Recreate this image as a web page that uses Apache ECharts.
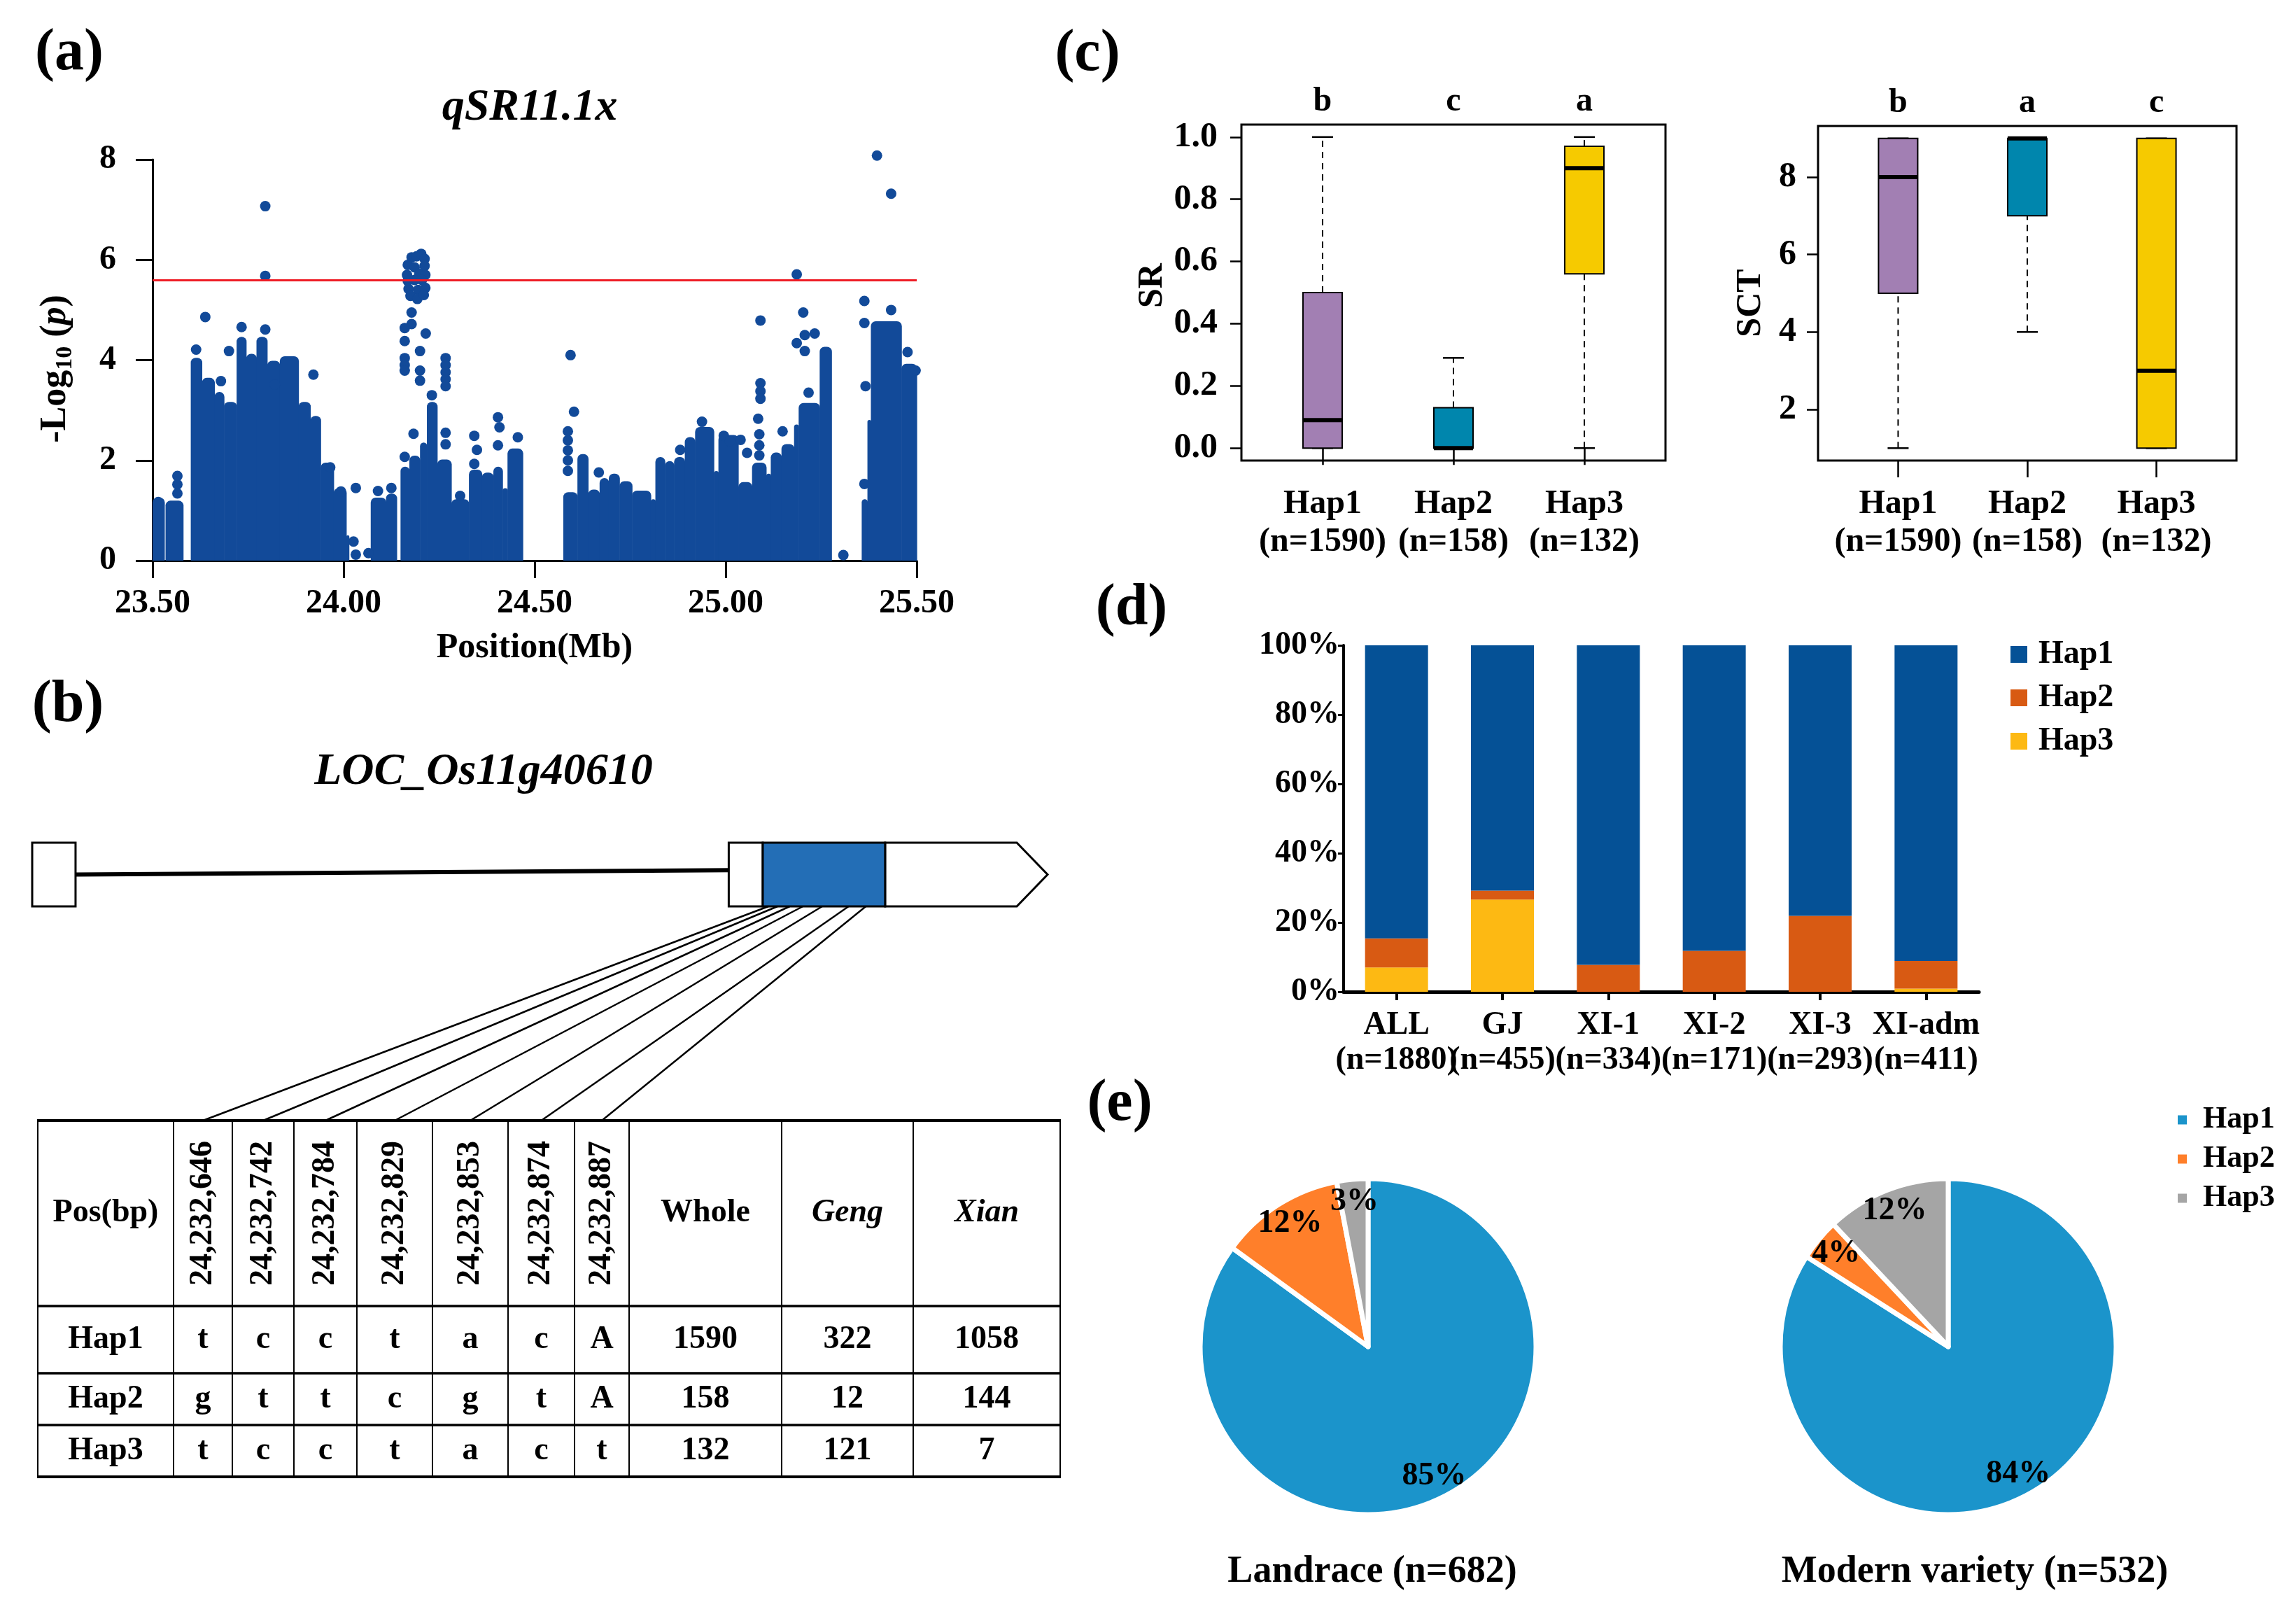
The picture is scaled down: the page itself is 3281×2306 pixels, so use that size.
<!DOCTYPE html>
<html><head><meta charset="utf-8">
<script src="https://cdn.jsdelivr.net/npm/echarts@6/dist/echarts.min.js"></script>
<style>html,body{margin:0;padding:0;background:#fff}#c{width:3281px;height:2306px}</style>
</head><body><div id="c"></div>
<script>
// ================= DATA =================
// (a) Manhattan plot: dense SNP mass read as envelope blocks [startMb, endMb, top -log10p]
const snpBlocks = [
  [23.500, 23.531, 1.20], [23.534, 23.580, 1.14],
  [23.600, 23.629, 3.99], [23.629, 23.662, 3.59], [23.662, 23.687, 3.31],
  [23.687, 23.720, 3.11], [23.720, 23.745, 4.41], [23.745, 23.772, 4.07],
  [23.772, 23.800, 4.41], [23.800, 23.833, 3.93], [23.833, 23.882, 4.02],
  [23.882, 23.913, 3.11], [23.913, 23.940, 2.83], [23.940, 23.974, 1.90],
  [23.974, 24.007, 1.39], [24.007, 24.014, 0.45],
  [24.071, 24.111, 1.20], [24.111, 24.139, 1.28],
  [24.149, 24.172, 1.82], [24.172, 24.200, 2.04], [24.200, 24.218, 2.30],
  [24.218, 24.245, 3.11], [24.245, 24.282, 1.96], [24.282, 24.328, 1.17],
  [24.328, 24.362, 1.76], [24.362, 24.392, 1.70], [24.392, 24.416, 1.82],
  [24.416, 24.429, 1.39], [24.429, 24.469, 2.18],
  [24.575, 24.612, 1.31], [24.612, 24.640, 2.07], [24.640, 24.670, 1.36],
  [24.670, 24.694, 1.59], [24.694, 24.722, 1.68], [24.722, 24.755, 1.53],
  [24.755, 24.804, 1.34], [24.804, 24.816, 1.17], [24.816, 24.841, 2.01],
  [24.841, 24.865, 1.93], [24.865, 24.893, 2.01], [24.893, 24.920, 2.41],
  [24.920, 24.969, 2.61], [24.969, 24.981, 1.73], [24.981, 25.033, 2.45],
  [25.033, 25.069, 1.51], [25.069, 25.106, 1.90], [25.106, 25.118, 1.68],
  [25.118, 25.146, 2.10], [25.146, 25.179, 2.27], [25.179, 25.191, 2.66],
  [25.191, 25.246, 3.09], [25.246, 25.277, 4.21],
  [25.356, 25.371, 1.17], [25.371, 25.380, 2.75], [25.380, 25.460, 4.72],
  [25.460, 25.500, 3.87]
];
// (a) individual SNP points standing out of the mass [Mb, -log10p]
const snpPoints = [
  [23.515, 1.17], [23.565, 1.69], [23.565, 1.52], [23.565, 1.34],
  [23.614, 4.21], [23.638, 4.86], [23.679, 3.58], [23.700, 4.18], [23.733, 4.66],
  [23.795, 7.07], [23.795, 5.68], [23.795, 4.61], [23.820, 3.51], [23.921, 3.71],
  [23.965, 1.86], [23.993, 1.38],
  [24.026, 0.38], [24.032, 0.12], [24.032, 1.45], [24.065, 0.15], [24.090, 1.39], [24.125, 1.45],
  [24.160, 2.07], [24.183, 2.53],
  [24.178, 6.05], [24.191, 6.07], [24.203, 6.12], [24.212, 6.02],
  [24.168, 5.90], [24.212, 5.88], [24.186, 5.85],
  [24.166, 5.70], [24.198, 5.72], [24.214, 5.70],
  [24.168, 5.58], [24.186, 5.60], [24.205, 5.60],
  [24.170, 5.42], [24.195, 5.40], [24.214, 5.44],
  [24.175, 5.28], [24.193, 5.22], [24.210, 5.30],
  [24.178, 4.95], [24.178, 4.72], [24.160, 4.64], [24.160, 4.38], [24.215, 4.53], [24.200, 4.18],
  [24.160, 4.04], [24.160, 3.90], [24.160, 3.79], [24.200, 3.79], [24.200, 3.59],
  [24.267, 4.04], [24.267, 3.90], [24.267, 3.76], [24.267, 3.62], [24.267, 3.48],
  [24.231, 3.30], [24.267, 2.55], [24.267, 2.32], [24.305, 1.29],
  [24.342, 2.49], [24.349, 2.21], [24.342, 1.93], [24.404, 2.30], [24.404, 2.86], [24.408, 2.66], [24.456, 2.46],
  [24.587, 2.58], [24.587, 2.40], [24.587, 2.20], [24.587, 2.00], [24.587, 1.79], [24.603, 2.97], [24.594, 4.10],
  [24.668, 1.76], [24.881, 2.21], [24.938, 2.77], [24.995, 2.49], [25.011, 2.38],
  [25.039, 2.41], [25.056, 2.15], [25.088, 2.52], [25.088, 2.30], [25.088, 2.10], [25.085, 2.83],
  [25.091, 3.54], [25.091, 3.38], [25.091, 3.23], [25.091, 4.79], [25.149, 2.58], [25.217, 3.35],
  [25.186, 5.71], [25.203, 4.95], [25.207, 4.50], [25.233, 4.53], [25.186, 4.34], [25.207, 4.18],
  [25.308, 0.11], [25.363, 1.53], [25.363, 5.18], [25.363, 4.74], [25.366, 3.48], [25.433, 5.00],
  [25.396, 8.08], [25.433, 7.32], [25.476, 4.16], [25.497, 3.79]
];
const threshold = 5.59;

// (b) gene model (schematic units 0-100 along the gene)
const geneExon1 = [0, 4.27];
const geneUtr5 = [68.6, 71.95];
const geneCds = [71.95, 84.0];
const geneUtr3 = [84.0, 100];
const geneIntron = [4.27, 68.6];
const snpAnchors = [72.5, 73.4, 74.6, 75.9, 77.8, 80.4, 82.1];
const snpIds = ['24,232,646', '24,232,742', '24,232,784', '24,232,829', '24,232,853', '24,232,874', '24,232,887'];
const hapNames = ['Hap1', 'Hap2', 'Hap3'];
const hapAlleles = [
  ['t', 'c', 'c', 't', 'a', 'c', 'A'],
  ['g', 't', 't', 'c', 'g', 't', 'A'],
  ['t', 'c', 'c', 't', 'a', 'c', 't']
];
const countHeads = ['Whole', 'Geng', 'Xian'];
const hapCounts = [[1590, 322, 1058], [158, 12, 144], [132, 121, 7]];

// (c) box plots [min, Q1, median, Q3, max]
const hapN = [1590, 158, 132];
const srBox = [[0, 0, 0.09, 0.50, 1.00], [0, 0, 0.00, 0.13, 0.29], [0, 0.56, 0.90, 0.97, 1.00]];
const srLetters = ['b', 'c', 'a'];
const sctBox = [[1, 5, 8, 9, 9], [4, 7, 9, 9, 9], [1, 1, 3, 9, 9]];
const sctLetters = ['b', 'a', 'c'];
const srTicks = [0, 0.2, 0.4, 0.6, 0.8, 1.0];
const sctTicks = [2, 4, 6, 8];

// (d) haplotype frequencies (%) per subpopulation
const dGroups = ['ALL', 'GJ', 'XI-1', 'XI-2', 'XI-3', 'XI-adm'];
const dN = [1880, 455, 334, 171, 293, 411];
const dHap1 = [84.6, 70.8, 92.2, 88.2, 78.1, 91.1];
const dHap2 = [8.4, 2.6, 7.8, 11.8, 21.9, 8.0];
const dHap3 = [7.0, 26.6, 0, 0, 0, 0.9];

// (e) pies (%)
const landrace = [85, 12, 3];
const modern = [84, 4, 12];
const pieTitles = ['Landrace (n=682)', 'Modern variety (n=532)'];

// ================= STYLE / LAYOUT =================
const FONT = '"Liberation Serif", "Times New Roman", Times, serif';
const MCOL = '#124A99';
const BOX_COL = ['#A27FB3', '#0086AD', '#F6CA00'];
const D_COL = ['#055196', '#D85A13', '#FDB913'];
const PIE_COL = ['#1B94CB', '#FF7F2A', '#A5A5A5'];
const BOLD = { fontFamily: FONT, fontWeight: 'bold', color: '#000' };

const colX = [54, 248, 332, 420, 510, 618, 726, 821, 899, 1117, 1305, 1515];
const rowY = [1601, 1866, 1962, 2036, 2110];
const colC = i => (colX[i] + colX[i + 1]) / 2;
const rowC = r => (rowY[r] + rowY[r + 1]) / 2;

function txt(x, y, text, size, opts) {
  opts = opts || {};
  return {
    type: 'text', x: x, y: y, rotation: opts.rotation || 0, silent: true, z: 50,
    style: Object.assign({
      text: text, fontSize: size, fontFamily: FONT, fontWeight: 'bold',
      fontStyle: opts.italic ? 'italic' : 'normal', fill: '#000',
      align: 'center', verticalAlign: 'middle'
    }, opts.style || {})
  };
}
function hline(x1, x2, y, w) {
  return { type: 'line', silent: true, z: 40, shape: { x1: x1, y1: y, x2: x2, y2: y }, style: { stroke: '#000', lineWidth: w } };
}
function vline(x, y1, y2, w) {
  return { type: 'line', silent: true, z: 40, shape: { x1: x, y1: y1, x2: x, y2: y2 }, style: { stroke: '#000', lineWidth: w } };
}

const gfx = [];
gfx.push(txt(99, 77, '(a)', 84), txt(97, 1008, '(b)', 84), txt(1554, 78, '(c)', 84),
         txt(1617, 870, '(d)', 84), txt(1600, 1578, '(e)', 84));
gfx.push(txt(757, 154, 'qSR11.1x', 64, { italic: true }));
gfx.push(txt(691, 1103, 'LOC_Os11g40610', 64, { italic: true }));
gfx.push(txt(80, 527, '-Log{s|10} ({i|p})', 52, {
  rotation: Math.PI / 2,
  style: { rich: {
    s: { fontSize: 34, fontFamily: FONT, fontWeight: 'bold', verticalAlign: 'bottom', lineHeight: 60 },
    i: { fontSize: 52, fontFamily: FONT, fontWeight: 'bold', fontStyle: 'italic' }
  } }
}));
gfx.push(txt(764, 926, 'Position(Mb)', 50));
gfx.push(txt(1647, 408, 'SR', 50, { rotation: Math.PI / 2 }));
gfx.push(txt(2502, 433, 'SCT', 50, { rotation: Math.PI / 2 }));
gfx.push(txt(1961, 2246, pieTitles[0], 54), txt(2822, 2246, pieTitles[1], 54));

// table
for (let r = 0; r < rowY.length; r++) {
  const w = (r === 0 || r === rowY.length - 1) ? 4 : 3.5;
  gfx.push(hline(colX[0] - 1, colX[colX.length - 1] + 1, rowY[r], w));
}
for (let c = 0; c < colX.length; c++) {
  gfx.push(vline(colX[c], rowY[0], rowY[rowY.length - 1], 2));
}
const hy = rowC(0);
gfx.push(txt(colC(0), hy, 'Pos(bp)', 46));
snpIds.forEach((s, i) => gfx.push(txt(colC(i + 1), hy, s, 46, { rotation: Math.PI / 2 })));
countHeads.forEach((s, i) => gfx.push(txt(colC(8 + i), hy, s, 46, { italic: i > 0 })));
hapNames.forEach((h, r) => {
  const y = rowC(r + 1);
  gfx.push(txt(colC(0), y, h, 46));
  hapAlleles[r].forEach((a, i) => gfx.push(txt(colC(i + 1), y, a, 46)));
  hapCounts[r].forEach((n, i) => gfx.push(txt(colC(8 + i), y, String(n), 46)));
});

// ================= RENDERERS =================
function renderBlock(params, api) {
  const a = api.coord([api.value(0), api.value(2)]);
  const b = api.coord([api.value(1), 0]);
  return { type: 'rect', shape: { x: a[0], y: a[1] - 4, width: b[0] - a[0] + 0.6, height: b[1] - a[1] + 4, r: [7, 7, 0, 0] },
           style: { fill: MCOL } };
}
const GENE_KIND = ['box', 'box', 'cds', 'arrow'];
function renderGene(params, api) {
  const p0 = api.coord([api.value(0), 1]);
  const p1 = api.coord([api.value(1), 0]);
  const kind = GENE_KIND[params.dataIndex];
  const st = { fill: kind === 'cds' ? '#236EB6' : '#fff', stroke: '#000', lineWidth: 3 };
  if (kind === 'arrow') {
    const mid = (p0[1] + p1[1]) / 2;
    return { type: 'polygon', shape: { points: [[p0[0], p0[1]], [p1[0] - 44, p0[1]], [p1[0], mid], [p1[0] - 44, p1[1]], [p0[0], p1[1]]] }, style: st, z2: 5 };
  }
  return { type: 'rect', shape: { x: p0[0], y: p0[1], width: p1[0] - p0[0], height: p1[1] - p0[1] }, style: st, z2: kind === 'cds' ? 6 : 5 };
}
function renderIntron(params, api) {
  const a = api.coord([api.value(0), 0.50]);
  const b = api.coord([api.value(1), 0.57]);
  return { type: 'line', shape: { x1: a[0], y1: a[1], x2: b[0], y2: b[1] }, style: { stroke: '#000', lineWidth: 6 } };
}
function renderSnpLine(params, api) {
  const a = api.coord([api.value(0), 0]);
  const i = params.dataIndex;
  return { type: 'line', shape: { x1: a[0], y1: a[1], x2: colC(i + 1), y2: rowY[0] }, style: { stroke: '#000', lineWidth: 2.5 } };
}
function boxRenderer(letters) {
  return function (params, api) {
    const i = params.dataIndex;
    const x = api.value(0);
    const mn = api.value(1), q1 = api.value(2), md = api.value(3), q3 = api.value(4), mx = api.value(5);
    const px = api.coord([x, md])[0];
    const y = v => api.coord([x, v])[1];
    const bw = 56, cw = 30;
    const ch = [];
    const dash = { stroke: '#000', lineWidth: 2, lineDash: [9, 7] };
    const solid = { stroke: '#000', lineWidth: 2.5 };
    if (mx > q3) ch.push({ type: 'line', shape: { x1: px, y1: y(q3), x2: px, y2: y(mx) }, style: dash });
    if (q1 > mn) ch.push({ type: 'line', shape: { x1: px, y1: y(mn), x2: px, y2: y(q1) }, style: dash });
    ch.push({ type: 'line', shape: { x1: px - cw / 2, y1: y(mx), x2: px + cw / 2, y2: y(mx) }, style: solid });
    ch.push({ type: 'line', shape: { x1: px - cw / 2, y1: y(mn), x2: px + cw / 2, y2: y(mn) }, style: solid });
    ch.push({ type: 'rect', shape: { x: px - bw / 2, y: y(q3), width: bw, height: y(q1) - y(q3) },
              style: { fill: BOX_COL[i], stroke: '#000', lineWidth: 2 } });
    ch.push({ type: 'line', shape: { x1: px - bw / 2, y1: y(md), x2: px + bw / 2, y2: y(md) }, style: { stroke: '#000', lineWidth: 6 } });
    ch.push({ type: 'text', x: px, y: params.coordSys.y - 8,
              style: { text: letters[i], fontSize: 48, fontFamily: FONT, fontWeight: 'bold', fill: '#000', align: 'center', verticalAlign: 'bottom' } });
    return { type: 'group', children: ch };
  };
}

// ================= AXES =================
const tickStyle = w => ({ color: '#000', width: w });
function hapLabel(v) { const i = Math.round(v) - 1; return hapNames[i] + '\n(n=' + hapN[i] + ')'; }
function boxXAxis(g) {
  return { gridIndex: g, type: 'value', min: 0.38, max: 3.62,
    axisLine: { show: false },
    axisTick: { show: true, customValues: [1, 2, 3], length: 24, lineStyle: tickStyle(2.5) },
    axisLabel: Object.assign({}, BOLD, { customValues: [1, 2, 3], fontSize: 48, lineHeight: 54, margin: 36, formatter: hapLabel }),
    splitLine: { show: false } };
}
function boxYAxis(g, mn, mx, ticks, dec, margin) {
  return { gridIndex: g, type: 'value', min: mn, max: mx,
    axisLine: { show: false },
    axisTick: { show: true, customValues: ticks, length: 16, lineStyle: tickStyle(2.5) },
    axisLabel: Object.assign({}, BOLD, { customValues: ticks, fontSize: 50, margin: margin, formatter: v => v.toFixed(dec) }),
    splitLine: { show: false } };
}

const option = {
  animation: false,
  backgroundColor: '#fff',
  graphic: { elements: gfx },
  grid: [
    { left: 218, top: 228, width: 1092, height: 573 },
    { left: 46, top: 1204, width: 1451, height: 91 },
    { left: 1774, top: 178, width: 606, height: 480, show: true, borderColor: '#000', borderWidth: 3 },
    { left: 2598, top: 180, width: 598, height: 478, show: true, borderColor: '#000', borderWidth: 3 },
    { left: 1920, top: 922, width: 908, height: 495 }
  ],
  xAxis: [
    { gridIndex: 0, type: 'value', min: 23.5, max: 25.5, interval: 0.5,
      axisLine: { show: true, lineStyle: tickStyle(3) },
      axisTick: { show: true, length: 25, lineStyle: tickStyle(3) },
      axisLabel: Object.assign({}, BOLD, { fontSize: 48, margin: 38, formatter: v => v.toFixed(2) }),
      splitLine: { show: false } },
    { gridIndex: 1, type: 'value', min: 0, max: 100, show: false },
    boxXAxis(2), boxXAxis(3),
    { gridIndex: 4, type: 'category', data: dGroups,
      axisLine: { show: true, lineStyle: tickStyle(5) },
      axisTick: { show: true, alignWithLabel: true, length: 12, lineStyle: tickStyle(4) },
      axisLabel: Object.assign({}, BOLD, { fontSize: 46, lineHeight: 50, margin: 23, interval: 0,
        formatter: (v, i) => v + '\n(n=' + dN[i] + ')' }) }
  ],
  yAxis: [
    { gridIndex: 0, type: 'value', min: 0, max: 8, interval: 2,
      axisLine: { show: true, lineStyle: tickStyle(3) },
      axisTick: { show: true, length: 24, lineStyle: tickStyle(3) },
      axisLabel: Object.assign({}, BOLD, { fontSize: 48, margin: 52 }),
      splitLine: { show: false } },
    { gridIndex: 1, type: 'value', min: 0, max: 1, show: false },
    boxYAxis(2, -0.04, 1.04, srTicks, 1, 34),
    boxYAxis(3, 0.68, 9.32, sctTicks, 0, 31),
    { gridIndex: 4, type: 'value', min: 0, max: 100, interval: 20,
      axisLine: { show: true, lineStyle: tickStyle(4) },
      axisTick: { show: true, length: 8, lineStyle: tickStyle(3) },
      axisLabel: Object.assign({}, BOLD, { fontSize: 46, margin: 6, formatter: '{value}%' }),
      splitLine: { show: false } }
  ],
  legend: [
    { orient: 'vertical', left: 2873, top: 912, itemWidth: 24, itemHeight: 24, itemGap: 16, icon: 'rect',
      selectedMode: false, padding: 0,
      textStyle: Object.assign({}, BOLD, { fontSize: 46, padding: [0, 0, 0, 11] }),
      data: hapNames.map((n, i) => ({ name: n, itemStyle: { color: D_COL[i] } })) },
    { orient: 'vertical', left: 3112, top: 1578, itemWidth: 13, itemHeight: 13, itemGap: 12, icon: 'rect',
      selectedMode: false, padding: 0,
      textStyle: Object.assign({}, BOLD, { fontSize: 44, padding: [0, 0, 0, 18] }),
      data: hapNames.map((n, i) => ({ name: n, itemStyle: { color: PIE_COL[i] } })) }
  ],
  series: [
    { type: 'custom', name: 'snpMass', xAxisIndex: 0, yAxisIndex: 0, data: snpBlocks,
      encode: { x: [0, 1], y: 2 }, renderItem: renderBlock, silent: true, z: 2 },
    { type: 'scatter', name: 'snps', xAxisIndex: 0, yAxisIndex: 0, data: snpPoints, symbolSize: 15, clip: false,
      itemStyle: { color: MCOL, opacity: 1 }, silent: true, z: 3,
      markLine: { silent: true, symbol: 'none', label: { show: false },
        lineStyle: { color: '#EE1C25', width: 3, type: 'solid' }, data: [{ yAxis: threshold }] } },
    { type: 'custom', name: 'intron', xAxisIndex: 1, yAxisIndex: 1, data: [geneIntron], encode: { x: [0, 1] },
      renderItem: renderIntron, silent: true, z: 2 },
    { type: 'custom', name: 'gene', xAxisIndex: 1, yAxisIndex: 1, data: [geneExon1, geneUtr5, geneCds, geneUtr3],
      encode: { x: [0, 1] }, renderItem: renderGene, silent: true, z: 3 },
    { type: 'custom', name: 'snpLines', xAxisIndex: 1, yAxisIndex: 1, data: snpAnchors.map(v => [v]),
      encode: { x: 0 }, renderItem: renderSnpLine, silent: true, z: 4 },
    { type: 'custom', name: 'SR', xAxisIndex: 2, yAxisIndex: 2, data: srBox.map((b, i) => [i + 1].concat(b)),
      encode: { x: 0, y: [1, 2, 3, 4, 5] }, renderItem: boxRenderer(srLetters), silent: true },
    { type: 'custom', name: 'SCT', xAxisIndex: 3, yAxisIndex: 3, data: sctBox.map((b, i) => [i + 1].concat(b)),
      encode: { x: 0, y: [1, 2, 3, 4, 5] }, renderItem: boxRenderer(sctLetters), silent: true },
    { type: 'bar', name: 'Hap3', xAxisIndex: 4, yAxisIndex: 4, stack: 'd', data: dHap3, barWidth: 90, itemStyle: { color: D_COL[2] }, silent: true },
    { type: 'bar', name: 'Hap2', xAxisIndex: 4, yAxisIndex: 4, stack: 'd', data: dHap2, barWidth: 90, itemStyle: { color: D_COL[1] }, silent: true },
    { type: 'bar', name: 'Hap1', xAxisIndex: 4, yAxisIndex: 4, stack: 'd', data: dHap1, barWidth: 90, itemStyle: { color: D_COL[0] }, silent: true },
    { type: 'pie', name: 'Landrace', center: [1955, 1924], radius: 240, startAngle: 90, clockwise: true, silent: true,
      data: hapNames.map((n, i) => ({ name: n, value: landrace[i], itemStyle: { color: PIE_COL[i] } })),
      label: { show: false }, labelLine: { show: false }, itemStyle: { borderColor: '#fff', borderWidth: 7 } },
    { type: 'pie', name: 'LandraceLabels', center: [1955, 1924], radius: [170, 240], startAngle: 90, clockwise: true, silent: true, z: 5,
      data: hapNames.map((n, i) => ({ name: n, value: landrace[i] })),
      itemStyle: { color: 'rgba(0,0,0,0)', borderWidth: 0 }, labelLine: { show: false },
      label: Object.assign({}, BOLD, { show: true, position: 'inside', fontSize: 46, formatter: '{c}%' }) },
    { type: 'pie', name: 'Modern', center: [2784, 1924], radius: 240, startAngle: 90, clockwise: true, silent: true,
      data: hapNames.map((n, i) => ({ name: n, value: modern[i], itemStyle: { color: PIE_COL[i] } })),
      label: { show: false }, labelLine: { show: false }, itemStyle: { borderColor: '#fff', borderWidth: 7 } },
    { type: 'pie', name: 'ModernLabels', center: [2784, 1924], radius: [170, 240], startAngle: 90, clockwise: true, silent: true, z: 5,
      data: hapNames.map((n, i) => ({ name: n, value: modern[i] })),
      itemStyle: { color: 'rgba(0,0,0,0)', borderWidth: 0 }, labelLine: { show: false },
      label: Object.assign({}, BOLD, { show: true, position: 'inside', fontSize: 46, formatter: '{c}%' }) }
  ]
};

const chart = echarts.init(document.getElementById('c'), null, { renderer: 'canvas', width: 3281, height: 2306 });
chart.setOption(option);
</script>
</body></html>
